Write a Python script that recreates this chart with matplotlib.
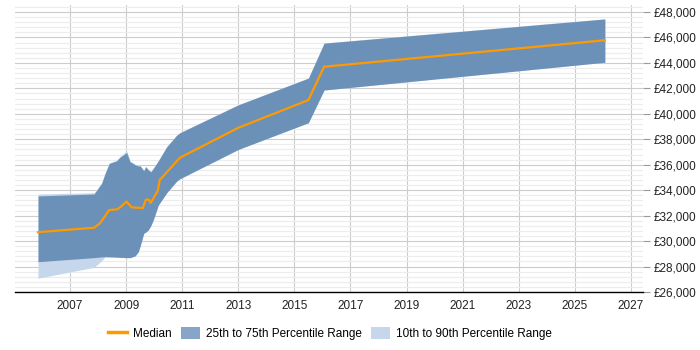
import matplotlib
matplotlib.use('Agg')
import matplotlib.pyplot as plt
from matplotlib.patches import Patch
from matplotlib.lines import Line2D
from matplotlib.ticker import FuncFormatter, MultipleLocator

plt.rcParams['font.family'] = ['Liberation Sans', 'DejaVu Sans']

# Dados (anos decimais, salario em libras)
median_years = [2005.86, 2007.86, 2008.07, 2008.4, 2008.7, 2009.02, 2009.2, 2009.6, 2009.7,
                2009.8, 2009.88, 2010.13, 2010.2, 2010.92, 2013.0, 2015.5, 2016.06, 2026.07]
median_values = [30700, 31050, 31400, 32440, 32500, 33100, 32650, 32600, 33230,
                 33280, 33000, 33960, 34800, 36550, 38900, 41080, 43700, 45780]

band_years = [2005.86, 2007.86, 2008.13, 2008.25, 2008.4, 2008.66, 2008.78, 2009.02, 2009.14,
              2009.32, 2009.44, 2009.5, 2009.63, 2009.7, 2009.79, 2009.88, 2009.97, 2010.15,
              2010.45, 2010.8, 2010.92, 2013.0, 2015.5, 2016.06, 2026.07]
p25_values = [28380, 28700, 28760, 28770, 28760, 28740, 28720, 28700, 28700,
              28830, 29170, 29600, 30610, 30700, 30870, 31200, 31660, 32830,
              33800, 34700, 34900, 37200, 39300, 41870, 44050]
p75_values = [33550, 33700, 34540, 35300, 36100, 36300, 36580, 36950, 36240,
              36000, 35900, 35900, 35530, 35840, 35600, 35440, 35700, 36300,
              37410, 38300, 38510, 40700, 42800, 45550, 47450]
p10_values = [27080, 27940, 28450, 28770, 28760, 28740, 28720, 28700, 28700,
              28830, 29170, 29600, 30610, 30700, 30870, 31200, 31660, 32830,
              33800, 34700, 34900, 37200, 39300, 41870, 44050]
p90_values = [33700, 33800, 34600, 35350, 36150, 36350, 36650, 37100, 36300,
              36050, 35950, 35950, 35580, 35880, 35650, 35480, 35750, 36350,
              37450, 38330, 38530, 40720, 42820, 45570, 47470]

year_ticks = list(range(2007, 2028, 2))
salary_ticks = list(range(26000, 48001, 2000))


def money(v, pos):
    return '£{:,.0f}'.format(v)


fig = plt.figure(figsize=(7, 3.5), dpi=100)
ax = fig.add_axes([15 / 700, 58 / 350, 628 / 700, 287 / 350])

ax.fill_between(band_years, p10_values, p90_values, color='#c6d7ec', lw=0, zorder=2)
ax.fill_between(band_years, p25_values, p75_values, color='#4e7aa9', alpha=0.75, lw=0, zorder=3)
ax.plot(median_years, median_values, color='#ff9900', lw=1.6, zorder=4)

ax.set_xlim(2005.04, 2027.43)
ax.set_ylim(26000, 48550)
ax.set_xticks(year_ticks)
ax.set_yticks(salary_ticks)
ax.yaxis.set_minor_locator(MultipleLocator(400))
ax.yaxis.set_major_formatter(FuncFormatter(money))
ax.yaxis.tick_right()

ax.grid(axis='x', color='#cccccc', lw=0.8, zorder=1)
ax.grid(axis='y', which='major', color='#cccccc', lw=0.8, zorder=1)
ax.grid(axis='y', which='minor', color='#ececec', lw=0.8, zorder=1)
ax.set_axisbelow(True)

for s in ['top', 'left', 'right']:
    ax.spines[s].set_visible(False)
ax.spines['bottom'].set_color('black')
ax.spines['bottom'].set_linewidth(1)

ax.tick_params(axis='x', length=0, labelsize=8.5, pad=6, colors='#222222')
ax.tick_params(axis='y', which='major', length=5, color='#999999', labelsize=8.5, pad=3,
               labelcolor='#222222')
ax.tick_params(axis='y', which='minor', length=0)

handles = [Line2D([], [], color='#ff9900', lw=2.5),
           Patch(facecolor='#86a5c8'),
           Patch(facecolor='#c6d7ec')]
labels = ['Median', '25th to 75th Percentile Range', '10th to 90th Percentile Range']
fig.legend(handles, labels, loc='center', bbox_to_anchor=(0.471, 0.047), ncol=3,
           frameon=False, fontsize=8.5, handlelength=1.6, handleheight=1.2,
           columnspacing=0.8, handletextpad=0.5)

fig.savefig('out.png', dpi=100)
